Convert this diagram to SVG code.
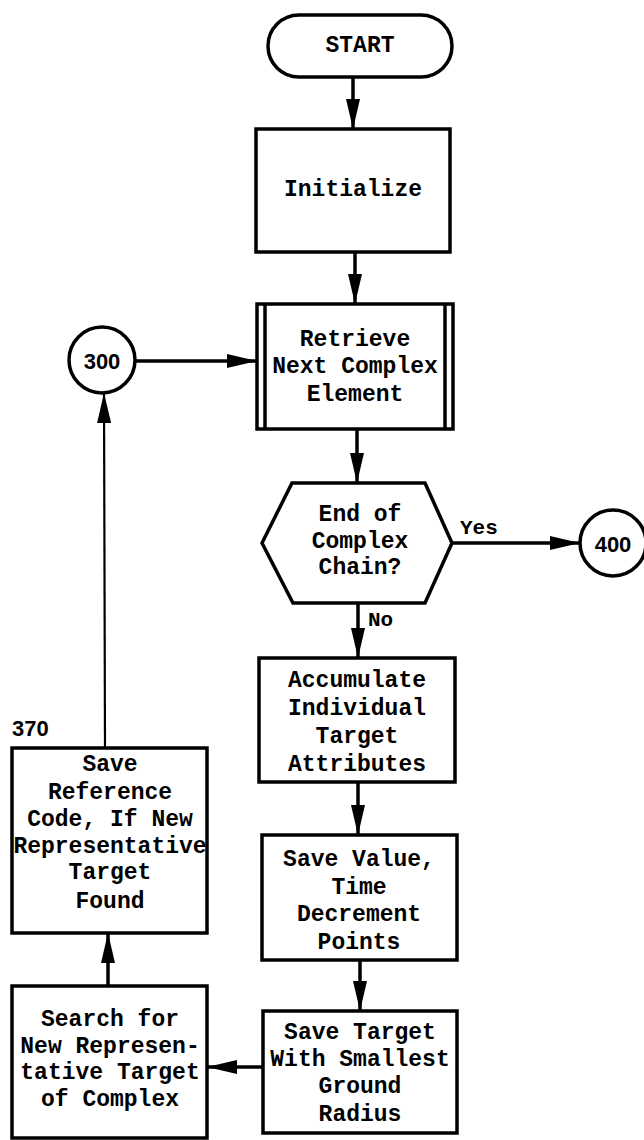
<svg xmlns="http://www.w3.org/2000/svg" width="644" height="1140" viewBox="0 0 644 1140">
<style>
.shape{fill:#fff;stroke:#000;stroke-width:3.5}
.t{font-family:"Liberation Mono","DejaVu Sans Mono",monospace;font-weight:bold;font-size:23px;text-anchor:middle;dominant-baseline:central;fill:#000}
.lbl{font-family:"Liberation Mono","DejaVu Sans Mono",monospace;font-weight:bold;font-size:21px;dominant-baseline:central;fill:#000}
.num{font-family:"Liberation Sans","Arial",sans-serif;font-weight:bold;font-size:22px;dominant-baseline:central;fill:#000}
.c{fill:none;stroke:#000;stroke-width:3.5}
.thin{fill:none;stroke:#000;stroke-width:2.2}
</style>
<defs>
<marker id="ah" markerUnits="userSpaceOnUse" markerWidth="30" markerHeight="14" refX="30" refY="7" orient="auto">
<path d="M0,0 L30,7 L0,14 z" fill="#000"/>
</marker>
</defs>
<rect width="644" height="1140" fill="#fff"/>
<g id="connectors">
<line class="c" x1="353" y1="77" x2="353" y2="129" marker-end="url(#ah)"/>
<line class="c" x1="355" y1="252" x2="355" y2="304" marker-end="url(#ah)"/>
<line class="c" x1="135" y1="361" x2="257" y2="361" marker-end="url(#ah)"/>
<line class="c" x1="357" y1="429" x2="357" y2="483" marker-end="url(#ah)"/>
<line class="c" x1="452" y1="543" x2="580" y2="543" marker-end="url(#ah)"/>
<line class="c" x1="358" y1="603" x2="358" y2="658" marker-end="url(#ah)"/>
<line class="c" x1="358" y1="782" x2="358" y2="835" marker-end="url(#ah)"/>
<line class="c" x1="360" y1="960" x2="360" y2="1011" marker-end="url(#ah)"/>
<line class="c" x1="263" y1="1067" x2="207" y2="1067" marker-end="url(#ah)"/>
<line class="c" x1="108" y1="986" x2="108" y2="933" marker-end="url(#ah)"/>
<line class="thin" x1="105" y1="748" x2="104" y2="393" marker-end="url(#ah)"/>
<text class="lbl" x="460" y="528">Yes</text>
<text class="lbl" x="368" y="620">No</text>
</g>
<g id="start">
<rect class="shape" x="268" y="15" width="184" height="62" rx="31"/>
<text class="t" x="360" y="46">START</text>
</g>
<g id="initialize">
<rect class="shape" x="256" y="129" width="194" height="123"/>
<text class="t" x="353" y="190">Initialize</text>
</g>
<g id="retrieve">
<rect class="shape" x="257" y="304" width="196" height="125"/>
<line class="c" x1="265" y1="304" x2="265" y2="429"/>
<line class="c" x1="445" y1="304" x2="445" y2="429"/>
<text class="t" x="355" y="340">Retrieve</text>
<text class="t" x="355" y="367">Next Complex</text>
<text class="t" x="355" y="395">Element</text>
</g>
<g id="c300">
<circle class="shape" cx="102" cy="360" r="33"/>
<text class="num" x="102" y="361" text-anchor="middle">300</text>
</g>
<g id="decision">
<polygon class="shape" points="262,543 292,483 425,483 452,543 425,603 293,603"/>
<text class="t" x="360" y="515">End of</text>
<text class="t" x="360" y="542">Complex</text>
<text class="t" x="360" y="568">Chain?</text>
</g>
<g id="c400">
<circle class="shape" cx="613" cy="543" r="33"/>
<text class="num" x="613" y="544" text-anchor="middle">400</text>
</g>
<g id="accumulate">
<rect class="shape" x="259" y="658" width="196" height="124"/>
<text class="t" x="357" y="681">Accumulate</text>
<text class="t" x="357" y="709">Individual</text>
<text class="t" x="357" y="737">Target</text>
<text class="t" x="357" y="765">Attributes</text>
</g>
<g id="savevalue">
<rect class="shape" x="262" y="835" width="195" height="125"/>
<text class="t" x="359" y="860">Save Value,</text>
<text class="t" x="359" y="888">Time</text>
<text class="t" x="359" y="915">Decrement</text>
<text class="t" x="359" y="943">Points</text>
</g>
<g id="savetarget">
<rect class="shape" x="263" y="1011" width="194" height="122"/>
<text class="t" x="360" y="1033">Save Target</text>
<text class="t" x="360" y="1060">With Smallest</text>
<text class="t" x="360" y="1087">Ground</text>
<text class="t" x="360" y="1115">Radius</text>
</g>
<g id="search">
<rect class="shape" x="12" y="986" width="195" height="152"/>
<text class="t" x="110" y="1020">Search for</text>
<text class="t" x="110" y="1047">New Represen-</text>
<text class="t" x="110" y="1073">tative Target</text>
<text class="t" x="110" y="1100">of Complex</text>
</g>
<g id="savereference">
<rect class="shape" x="12" y="748" width="195" height="185"/>
<text class="num" x="12" y="728">370</text>
<text class="t" x="110" y="765">Save</text>
<text class="t" x="110" y="793">Reference</text>
<text class="t" x="110" y="820">Code, If New</text>
<text class="t" x="110" y="847">Representative</text>
<text class="t" x="110" y="873">Target</text>
<text class="t" x="110" y="902">Found</text>
</g>
</svg>
